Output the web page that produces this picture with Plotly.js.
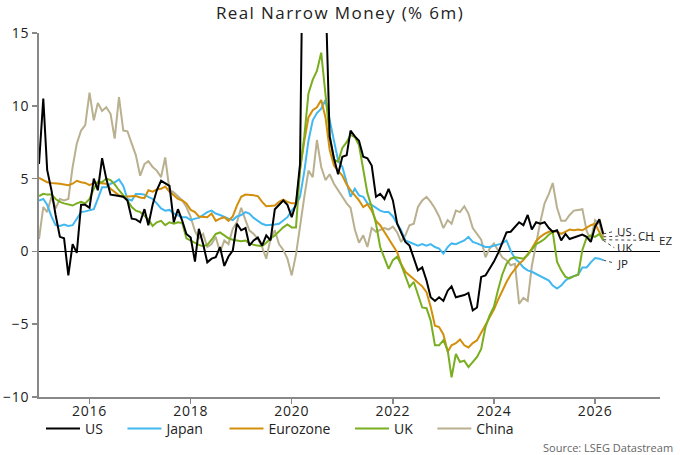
<!DOCTYPE html>
<html>
<head>
<meta charset="utf-8">
<script src="https://cdn.plot.ly/plotly-3.0.1.min.js"></script>
<style>
html,body{margin:0;padding:0;background:#fff;}
#chart{width:680px;height:455px;}
#chart .gtitle{letter-spacing:1.4px;}
#chart .xtick text,#chart .ytick text{letter-spacing:0.7px;}
</style>
</head>
<body>
<div id="chart"></div>
<script>
// Monthly series, starting January 2015
const startYear = 2015;

const US = [
  6.0, 10.5, 5.6, 4.2, 2.5, 1.0, 0.9, -1.65, 0.5, -0.1,
  3.2, 3.2, 3.0, 5.0, 4.2, 6.4, 5.0, 3.9, 3.85, 3.8,
  3.75, 3.5, 2.25, 2.2, 2.0, 2.9, 1.8, 3.2, 4.2, 4.85,
  4.65, 4.5, 2.0, 2.9, 2.1, 1.2, 0.95, -0.7, 1.55, 0.5,
  -0.75, -0.5, -0.4, 0.3, -1.0, -0.35, 0.05, 1.9, 1.45, 1.6,
  0.4, 0.75, 0.95, 0.4, 1.1, 0.75, 2.9, 3.2, 3.5, 3.2,
  2.35, 3.3, 6.0, 30, 35, 35, 32, 26, 18, 7.9,
  6.4, 5.3, 6.5, 6.6, 8.3, 7.9, 7.6, 6.5, 6.4, 5.9,
  3.75, 3.95, 3.6, 4.3, 3.5, 1.9, 1.3, 0.65, 0.4, -0.4,
  -1.3, -1.1, -2.0, -3.15, -3.4, -3.15, -3.4, -2.7, -2.4, -3.15,
  -3.1, -3.0, -2.85, -4.05, -3.85, -1.75, -1.65, -1.2, -0.7, -0.1,
  0.6, 1.3, 1.35, 1.7, 2.0, 1.8, 2.5, 1.5, 2.0, 1.9,
  2.0, 1.6, 1.35, 1.45, 0.75, 1.2, 0.85, 0.95, 1.05, 1.15,
  1.0, 0.65, 1.7, 2.2, 1.2
];

const Japan = [
  3.5, 3.6, 3.2, 2.4, 1.8, 1.75, 1.85, 1.75, 1.8, 2.25,
  2.7, 2.75, 2.8, 2.9, 3.6, 4.4, 4.4, 4.65, 4.75, 4.95,
  4.5, 3.6, 3.5, 3.95, 3.95, 3.9, 3.75, 3.6, 3.3, 2.95,
  2.8, 2.85, 2.6, 2.5, 2.35, 2.35, 2.15, 2.25, 2.3, 2.5,
  2.7, 2.8, 2.6, 2.5, 2.35, 2.25, 2.15, 2.4, 2.5, 2.7,
  2.6, 2.3, 2.1, 1.9, 1.8, 1.8, 1.85, 1.9, 2.1, 2.35,
  2.8, 3.15, 3.75, 5.5, 7.6, 9.0, 9.5, 9.8, 10.4, 9.0,
  7.6, 6.25, 5.8, 4.7, 3.75, 4.3, 3.85, 3.75, 3.3, 3.2,
  3.0, 2.8, 2.7, 2.7, 2.4, 1.9, 1.45, 0.75, 0.65, 0.55,
  0.4, 0.5, 0.4, 0.5, 0.3, 0.2, -0.15, 0.3, 0.55, 0.5,
  0.65, 0.75, 1.0, 0.65, 0.55, 0.4, 0.3, 0.3, 0.4, 0.5,
  0.55, 0.75, 0.05, -0.5, -0.75, -1.1, -1.3, -1.4, -1.55, -1.7,
  -1.9, -2.0, -2.35, -2.55, -2.35, -2.0, -1.8, -1.7, -1.6, -1.1,
  -1.1, -0.75, -0.45, -0.5, -0.6
];

const Eurozone = [
  5.05, 4.9, 4.75, 4.7, 4.7, 4.65, 4.6, 4.55, 4.65, 4.85,
  4.75, 4.7, 4.55, 4.7, 4.7, 4.7, 4.65, 4.3, 4.05, 3.85,
  3.75, 3.75, 3.75, 3.8, 3.7, 3.65, 4.2, 4.1, 4.25, 4.3,
  4.45, 4.1, 3.85, 3.6, 3.5, 3.3, 2.85, 2.7, 2.4, 2.35,
  2.35, 2.6, 2.1, 2.25, 2.35, 2.1, 2.4, 3.15, 3.75, 3.9,
  3.9, 3.85, 3.8, 3.4, 3.1, 3.15, 3.15, 3.4, 3.55, 3.4,
  3.3, 3.3, 5.6, 7.6, 9.2, 9.7, 9.9, 10.4, 9.2, 7.0,
  5.9, 5.55, 5.2, 4.6, 4.2, 3.85, 3.5, 3.05, 3.25, 2.8,
  2.1, 1.8, 1.3, 0.8, 0.4, -0.05, -0.85, -1.4, -1.65, -1.9,
  -2.2, -2.4, -2.8, -3.8, -5.1, -5.2, -5.7, -6.9, -6.45, -6.3,
  -6.05, -6.45, -6.6, -6.3, -6.1, -5.6, -5.0, -4.5, -4.0, -3.3,
  -2.7, -2.1, -1.6, -1.2, -0.85, -0.6, -0.2, 0.2, 0.7, 1.0,
  1.2, 1.35, 1.4, 1.35, 1.2, 1.35, 1.5, 1.45, 1.5, 1.45,
  1.65, 1.8, 1.9, 1.35, 0.8
];

const UK = [
  3.8, 3.95, 3.9, 3.9, 3.6, 3.4, 3.3, 3.2, 3.15, 3.3,
  3.4, 3.3, 3.6, 4.3, 4.8, 4.75, 5.0, 4.9, 4.6, 4.2,
  3.85, 3.5, 3.05, 2.8, 2.7, 2.45, 2.2, 1.75, 2.0, 2.1,
  1.8, 2.0, 1.9, 2.0, 1.95, 0.9, 0.75, 0.55, 0.45, 0.35,
  0.45, 0.8, 1.2, 1.3, 1.1, 0.9, 0.8, 0.75, 0.7, 0.75,
  0.55, 0.45, 0.4, 0.35, 0.6, 0.9, 1.1, 1.4, 1.65, 1.85,
  1.65, 1.65, 5.6, 7.9, 10.85, 11.8, 12.4, 13.65, 10.6, 8.0,
  6.3, 6.15, 7.1, 7.5, 8.0, 7.85, 7.3, 5.6, 4.0, 3.05,
  1.9, 0.3, -0.5, -1.2, -0.6, -0.35, -0.9, -1.75, -2.45, -2.1,
  -2.9, -3.85, -3.9, -4.75, -6.45, -6.45, -6.1, -6.8, -8.65, -7.05,
  -7.6, -7.5, -7.95, -7.6, -7.25, -6.7, -5.2, -4.4, -3.8, -2.6,
  -1.6, -0.85, -0.5, -0.4, -0.45, -0.5, -0.25, 0.1, 0.5, 0.65,
  0.85, 1.15, 1.35, -0.7, -1.3, -1.75, -1.85, -1.7, -1.6, 0.1,
  0.95, 1.1, 1.0, 1.2, 0.75
];

const China = [
  0.85, 3.05, 2.7, 3.75, 2.95, 3.6, 3.5, 3.6, 5.8, 7.4,
  8.3, 8.67, 10.9, 9.0, 10.2, 9.65, 9.9, 9.45, 7.75, 10.6,
  8.3, 8.25, 7.4, 6.6, 5.2, 6.0, 6.2, 5.8, 5.55, 5.1,
  6.45, 4.2, 4.05, 3.75, 3.5, 3.05, 2.35, 1.4, 0.9, 1.2,
  0.3, 0.5, 1.0, -0.05, 0.75, 0.5, 1.55, 2.0, 3.0, 2.15,
  1.45, 1.2, 0.87, 0.3, -0.5, 0.87, 1.45, 0.5, 0.1, -0.5,
  -1.65, -0.2, 1.8, 3.75, 5.55, 5.1, 7.65, 5.8, 4.9, 5.3,
  4.65, 4.2, 3.8, 3.3, 3.0, 1.5, 0.6, 1.1, 0.3, 1.6,
  1.35, 1.5, 1.6, 1.5, 1.7, 1.3, 0.65, 1.1, 1.8, 1.9,
  3.05, 3.5, 3.75, 3.4, 2.95, 2.4, 1.6, 2.15, 1.9, 2.8,
  2.7, 3.1, 2.6, 1.6, 1.2, 0.8, -0.4, 0.2, 0.55, 0.1,
  -0.4, -0.6, -0.95, -0.85, -3.6, -3.2, -3.4, -1.0, 0.6, 2.0,
  3.3, 3.95, 4.7, 3.0, 2.1, 2.1, 2.5, 2.8, 2.85, 2.9,
  1.4, 0.8, 2.15, 1.9, 1.0
];

const seriesNames = ['US', 'Japan', 'Eurozone', 'UK', 'China'];
const seriesColors = ['#000000', '#42B8F2', '#D38F0B', '#79AE1F', '#B9B08F'];
const endLabels = ['US', 'JP', 'EZ', 'UK', 'CH'];
// label anchor (date where the dotted leader ends) and label level
const endLabelX = ['2026-05-20', '2026-05-20', '2027-03-15', '2026-05-20', '2026-10-15'];
const endLabelY = [1.38, -0.8, 0.75, 0.25, 1.1];

const dates = US.map((_, i) => {
  const y = startYear + Math.floor(i / 12);
  const m = (i % 12) + 1;
  return y + '-' + (m < 10 ? '0' : '') + m + '-01';
});

const allSeries = [US, Japan, Eurozone, UK, China];
const drawOrder = [4, 1, 2, 3, 0];
const pad = '\u00A0\u00A0\u00A0\u00A0';

const traces = [];
drawOrder.forEach(k => {
  traces.push({
    x: dates, y: allSeries[k], type: 'scatter', mode: 'lines',
    name: seriesNames[k] + pad, legendrank: k + 1,
    line: {color: seriesColors[k], width: 2}, hoverinfo: 'skip'
  });
});
// dotted leaders from each series end to its label
allSeries.forEach((s, k) => {
  traces.push({
    x: [dates[dates.length - 1], endLabelX[k]],
    y: [s[s.length - 1], endLabelY[k]],
    type: 'scatter', mode: 'lines', showlegend: false, hoverinfo: 'skip',
    line: {color: '#444', width: 1, dash: 'dot'}
  });
});

const annotations = endLabels.map((t, k) => ({
  x: endLabelX[k], y: endLabelY[k], xref: 'x', yref: 'y',
  text: t, showarrow: false, xanchor: 'left', yanchor: 'middle', xshift: 1,
  font: {family: 'Open Sans', size: 11.5, color: '#222'}
}));
// source note below the legend, right aligned (plot area spans x 39..660, y 33..397)
annotations.push({
  x: (675 - 39) / 621, y: (397 - 447) / 364, xref: 'paper', yref: 'paper',
  text: 'Source: LSEG Datastream', showarrow: false,
  xanchor: 'right', yanchor: 'middle',
  font: {family: 'Open Sans', size: 11, color: '#666'}
});

const layout = {
  width: 680, height: 455,
  margin: {l: 39, r: 20, t: 33, b: 58},
  paper_bgcolor: '#fff', plot_bgcolor: '#fff',
  font: {family: 'Open Sans', color: '#222', size: 14},
  title: {text: 'Real Narrow Money (% 6m)', xref: 'container', x: 0.5, xanchor: 'center',
          yref: 'container', y: 1 - 13 / 455, yanchor: 'middle',
          font: {family: 'Open Sans', size: 17, color: '#222'}},
  showlegend: true,
  legend: {orientation: 'h', xref: 'container', yref: 'container',
           x: 41 / 680, xanchor: 'left', y: 1 - 413 / 455, yanchor: 'top',
           itemwidth: 34, font: {family: 'Open Sans', size: 14, color: '#222'},
           bgcolor: 'rgba(0,0,0,0)'},
  xaxis: {type: 'date', range: ['2015-01-01', '2027-04-15'],
          showgrid: false, zeroline: false, showline: true, linecolor: '#888', linewidth: 2,
          ticks: 'outside', ticklen: 5, tickwidth: 1.5, tickcolor: '#888',
          dtick: 'M24', tick0: '2016-01-01', tickformat: '%Y', ticklabelstandoff: -5,
          tickfont: {size: 14, color: '#222'}, fixedrange: true},
  yaxis: {range: [-10, 15], dtick: 5, tick0: 0,
          showgrid: false, zeroline: true, zerolinecolor: '#000', zerolinewidth: 1,
          showline: true, linecolor: '#888', linewidth: 2,
          ticks: 'outside', ticklen: 5, tickwidth: 1.5, tickcolor: '#888',
          tickfont: {size: 14, color: '#222'}, fixedrange: true},
  annotations: annotations
};

Plotly.newPlot('chart', traces, layout, {displayModeBar: false, staticPlot: true});
</script>
</body>
</html>
